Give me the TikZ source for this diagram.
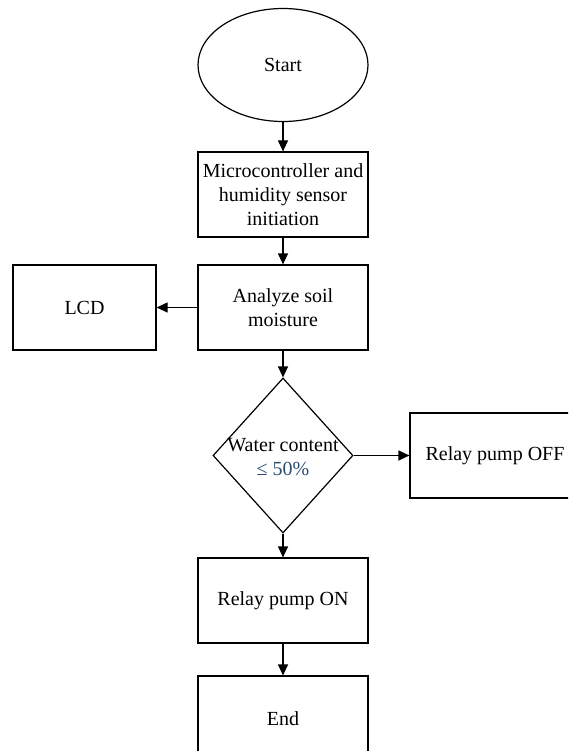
\documentclass[tikz,border=0pt]{standalone}
\usepackage{fontspec}
\setmainfont{Liberation Serif}
\usetikzlibrary{shapes.geometric,arrows.meta}
\definecolor{condblue}{RGB}{45,75,115}
\begin{document}
\begin{tikzpicture}[x=1pt,y=-1pt]

    \tikzset{
      block/.style={
        draw,
        line width=1.2pt,
        rectangle,
        minimum width=170pt,
        minimum height=85pt,
        inner sep=0pt,
        align=center,
        font=\fontsize{20}{24}\selectfont,
      },
      terminal/.style={
        draw,
        line width=1.2pt,
        ellipse,
        minimum width=170pt,
        minimum height=113pt,
        inner sep=0pt,
        font=\fontsize{20}{24}\selectfont,
      },
      decision/.style={
        draw,
        line width=1.2pt,
        diamond,
        minimum width=140pt,
        minimum height=155pt,
        inner sep=0pt,
      },
      flow/.style={
        line width=1.2pt,
        -{Triangle[length=11pt,width=10pt]},
      },
    }
    \clip (0,0) rectangle (568,751);
	\node[terminal] (start) at (283,65) {Start};
	\node[block] (init) at (283,194.5) {Microcontroller and\\humidity sensor\\initiation};
	\node[block] (analyze) at (283,307.5) {Analyze soil\\moisture};
	\node[block,minimum width=143pt] (lcd) at (84.5,307.5) {LCD};
	\node[decision] (cond) at (283,455.5) {};
	\node[align=center,inner sep=0pt,font=\fontsize{20}{24}\selectfont] (condtext) at (283,457)
	  {Water content\\\textcolor{condblue}{≤ 50\%}};
	\node[block] (off) at (495,455.5) {Relay pump OFF};
	\node[block] (on) at (283,600.5) {Relay pump ON};
	\node[block] (end) at (283,718.5) {End};
	% connectors
	\draw[flow] (start) -- (init);
	\draw[flow] (init) -- (analyze);
	\draw[flow] (analyze) -- (lcd);
	\draw[flow] (analyze) -- (cond);
	\draw[flow] (cond) -- (off);
	\draw[flow] (cond) -- (on);
	\draw[flow] (on) -- (end);

\end{tikzpicture}
\end{document}
